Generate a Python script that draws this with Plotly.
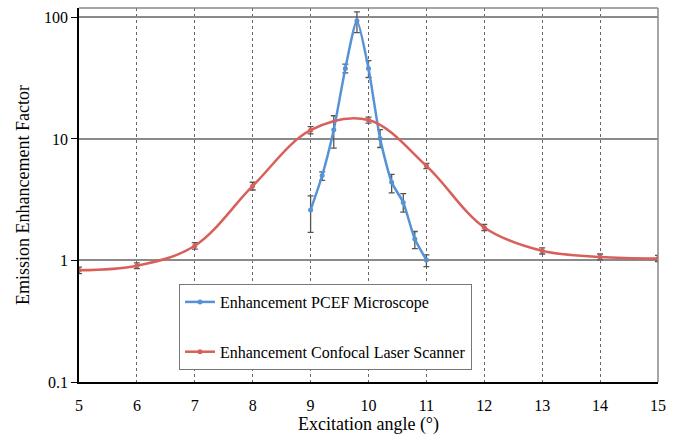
import plotly.graph_objects as go

# Data
pcef_x = [9, 9.2, 9.4, 9.6, 9.8, 10, 10.2, 10.4, 10.6, 10.8, 11]
pcef_y = [2.6, 5.0, 11.9, 38, 94, 38, 10.1, 4.4, 3.0, 1.50, 1.01]
pcef_err_plus = [0.8, 0.35, 3.6, 3.3, 17, 6, 1.8, 0.7, 0.55, 0.23, 0.1]
pcef_err_minus = [0.9, 0.45, 3.5, 3.0, 19, 6, 1.6, 0.8, 0.5, 0.25, 0.12]

cls_x = [5, 6, 7, 8, 9, 10, 11, 12, 13, 14, 15]
cls_y = [0.83, 0.905, 1.32, 4.1, 11.8, 14.3, 6.0, 1.87, 1.20, 1.07, 1.04]
cls_err = [0.05, 0.05, 0.08, 0.3, 0.8, 0.8, 0.3, 0.11, 0.07, 0.06, 0.06]

x_ticks = list(range(5, 16))
y_ticks = [0.1, 1, 10, 100]
y_ticklabels = ["0.1", "1", "10", "100"]

blue = "#5592d6"
red = "#d9605a"
serif = "Liberation Serif, Times New Roman, serif"

fig = go.Figure()
fig.add_trace(go.Scatter(
    x=pcef_x, y=pcef_y, mode="lines+markers",
    name="Enhancement PCEF Microscope",
    line=dict(color=blue, width=2.5, shape="spline", smoothing=0.6),
    marker=dict(color=blue, size=5),
    error_y=dict(type="data", array=pcef_err_plus, arrayminus=pcef_err_minus,
                 color="#555555", thickness=1.3, width=3),
    legendgroup="a",
))
fig.add_trace(go.Scatter(
    x=cls_x, y=cls_y, mode="lines+markers",
    name="Enhancement Confocal Laser Scanner",
    line=dict(color=red, width=2.5, shape="spline", smoothing=1),
    marker=dict(color=red, size=5),
    error_y=dict(type="data", array=cls_err, color="#555555", thickness=1.3, width=3),
    legendgroup="b",
))

fig.update_layout(
    width=680, height=443,
    margin=dict(l=79, r=22, t=8, b=61, autoexpand=False),
    paper_bgcolor="white", plot_bgcolor="white",
    font=dict(family=serif, size=16, color="black"),
    showlegend=True,
    legend=dict(
        x=0.1727, y=0.262, xanchor="left", yanchor="top",
        bordercolor="#777777", borderwidth=1, bgcolor="white",
        font=dict(size=16, family=serif, color="black"),
        tracegroupgap=26, itemwidth=30,
    ),
    xaxis=dict(
        range=[5, 15], tickvals=x_ticks, ticktext=[str(v) for v in x_ticks],
        tickfont=dict(family=serif, size=16, color="black"),
        showgrid=True, gridcolor="#666666", griddash="dot", gridwidth=1,
        showline=True, linecolor="black", linewidth=1.5,
        ticks="", ticklabelstandoff=8, zeroline=False, automargin=False,
        title=dict(text="Excitation angle (°)", font=dict(size=18, family=serif), standoff=3),
    ),
    yaxis=dict(
        type="log", range=[-1, 2.077], tickvals=y_ticks, ticktext=y_ticklabels,
        tickfont=dict(family=serif, size=16, color="black"),
        showgrid=True, gridcolor="#8a8a8a", gridwidth=1.5,
        showline=True, linecolor="black", linewidth=1.5,
        ticks="outside", ticklen=6, tickcolor="black",
        zeroline=False, automargin=False,
        title=dict(text="Emission Enhancement Factor", font=dict(size=18, family=serif), standoff=10),
    ),
    shapes=[
        dict(type="line", xref="paper", yref="paper", x0=0, x1=1, y0=1, y1=1,
             line=dict(color="#888888", width=1.5)),
        dict(type="line", xref="paper", yref="paper", x0=1, x1=1, y0=0, y1=1,
             line=dict(color="#888888", width=1.5)),
    ],
)

fig.write_html("out.html")
